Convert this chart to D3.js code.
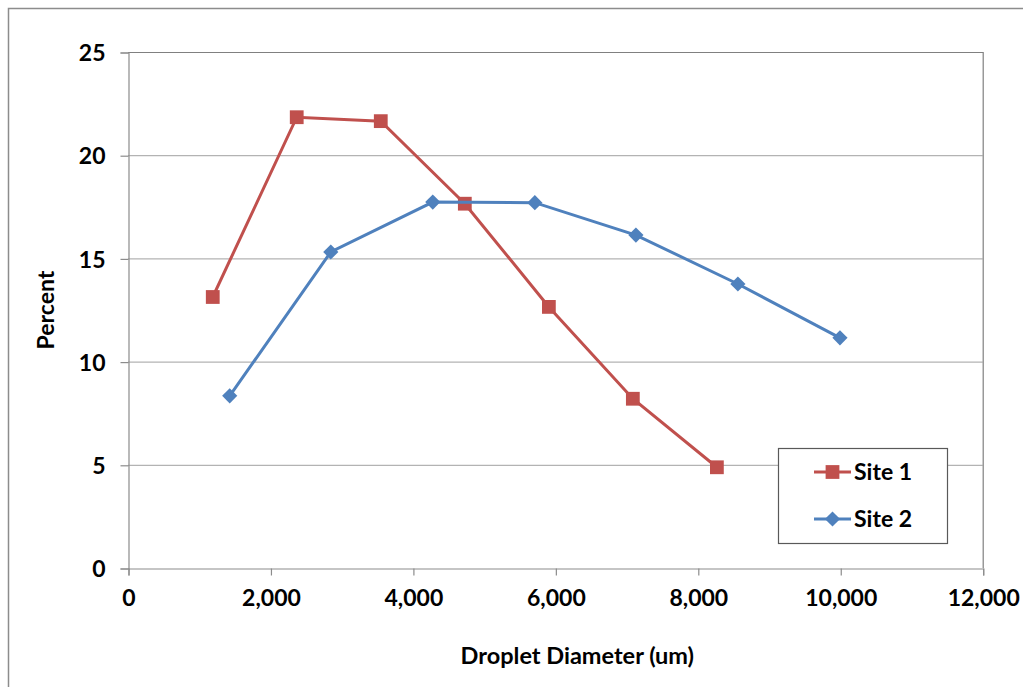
<!DOCTYPE html>
<html>
<head>
<meta charset="utf-8">
<script src="https://cdn.jsdelivr.net/npm/d3@7"></script>
<style>
  body { margin: 0; background: #fff; }
  text { font-family: Lato, "Open Sans", sans-serif; font-weight: bold; fill: #000; }
</style>
</head>
<body>
<script>
const site1X = [1190, 2369, 3549, 4729, 5909, 7088, 8268];
const site1Y = [13.13, 21.84, 21.65, 17.65, 12.65, 8.2, 4.88];
const site2X = [1428, 2847, 4279, 5712, 7131, 8563, 9996];
const site2Y = [8.34, 15.31, 17.73, 17.7, 16.13, 13.76, 11.15];
const xTicks = [0, 2000, 4000, 6000, 8000, 10000, 12000];
const yTicks = [0, 5, 10, 15, 20, 25];
const seriesNames = ['Site 1', 'Site 2'];
const seriesColors = ['#c0504d', '#4f81bd'];

const width = 1023, height = 687;
const margin = {left: 128, top: 52, right: 40, bottom: 119};

const svg = d3.select('body').append('svg')
  .attr('width', width)
  .attr('height', height);

// outer chart frame
svg.append('rect')
  .attr('x', 8.5).attr('y', 8.5)
  .attr('width', width + 20).attr('height', height + 20)
  .attr('fill', 'none').attr('stroke', '#8c8c8c').attr('stroke-width', 1.5);

const x = d3.scaleLinear().domain([0, 12000]).range([margin.left, width - margin.right - 0.3]);
const y = d3.scaleLinear().domain([0, 25]).range([height - margin.bottom, margin.top]);

// gridlines
svg.append('g')
  .selectAll('line')
  .data(yTicks.slice(1, -1))
  .join('line')
  .attr('x1', x(0)).attr('x2', x(12000))
  .attr('y1', d => y(d) + 0.5).attr('y2', d => y(d) + 0.5)
  .attr('stroke', '#b3b3b3').attr('stroke-width', 1.2);

// plot border top/right
svg.append('path')
  .attr('d', `M${x(0)},${y(25) + 0.5}H${x(12000) + 0.5}V${y(0)}`)
  .attr('fill', 'none').attr('stroke', '#808080').attr('stroke-width', 1.2);

const yAxis = svg.append('g')
  .attr('transform', `translate(${x(0) + 0.5},0.5)`)
  .call(d3.axisLeft(y).tickValues(yTicks).tickSize(8).tickPadding(15));

const xAxis = svg.append('g')
  .attr('transform', `translate(0.5,${y(0) + 0.5})`)
  .call(d3.axisBottom(x).tickValues(xTicks).tickSize(7).tickPadding(14)
    .tickFormat(d3.format(',')));

[xAxis, yAxis].forEach(a => {
  a.select('.domain').attr('stroke', '#8c8c8c').attr('stroke-width', 1.2);
  a.selectAll('.tick line').attr('stroke', '#8c8c8c').attr('stroke-width', 1.2);
  a.selectAll('text').style('font-size', '23px').style('font-family', 'Lato, sans-serif')
    .style('font-weight', 'bold').attr('fill', '#000');
});
yAxis.selectAll('text').attr('dy', '0.36em');

// axis titles
svg.append('text')
  .attr('transform', `translate(54,${(y(0) + y(25)) / 2}) rotate(-90)`)
  .attr('text-anchor', 'middle')
  .style('font-size', '23px')
  .text('Percent');

svg.append('text')
  .attr('x', (x(0) + x(12000)) / 2 + 22)
  .attr('y', 664)
  .attr('text-anchor', 'middle')
  .style('font-size', '23.5px')
  .text('Droplet Diameter (um)');

const line = d3.line().x(d => x(d[0])).y(d => y(d[1]));
const data = [
  d3.zip(site1X, site1Y),
  d3.zip(site2X, site2Y)
];

const square = d3.symbol().type(d3.symbolSquare).size(190);
const diamond = d3.symbol().type(d3.symbolSquare).size(115);
const shapes = [square, diamond];
const rotations = [0, 45];

data.forEach((pts, i) => {
  svg.append('path')
    .datum(pts)
    .attr('d', line)
    .attr('fill', 'none')
    .attr('stroke', seriesColors[i])
    .attr('stroke-width', 3);

  svg.append('g')
    .selectAll('path')
    .data(pts)
    .join('path')
    .attr('transform', d => `translate(${x(d[0])},${y(d[1])}) rotate(${rotations[i]})`)
    .attr('d', shapes[i]())
    .attr('fill', seriesColors[i]);
});

// legend
const legend = svg.append('g');
legend.append('rect')
  .attr('x', 778.5).attr('y', 448.5)
  .attr('width', 169).attr('height', 95)
  .attr('fill', '#fff').attr('stroke', '#595959').attr('stroke-width', 1.2);

seriesNames.forEach((name, i) => {
  const ly = 472 + i * 47;
  legend.append('line')
    .attr('x1', 814).attr('x2', 851)
    .attr('y1', ly).attr('y2', ly)
    .attr('stroke', seriesColors[i]).attr('stroke-width', 3);
  legend.append('path')
    .attr('transform', `translate(832.5,${ly}) rotate(${rotations[i]})`)
    .attr('d', shapes[i]())
    .attr('fill', seriesColors[i]);
  legend.append('text')
    .attr('x', 854).attr('y', ly)
    .attr('dy', '0.36em')
    .style('font-size', '23px')
    .text(name);
});
</script>
</body>
</html>
